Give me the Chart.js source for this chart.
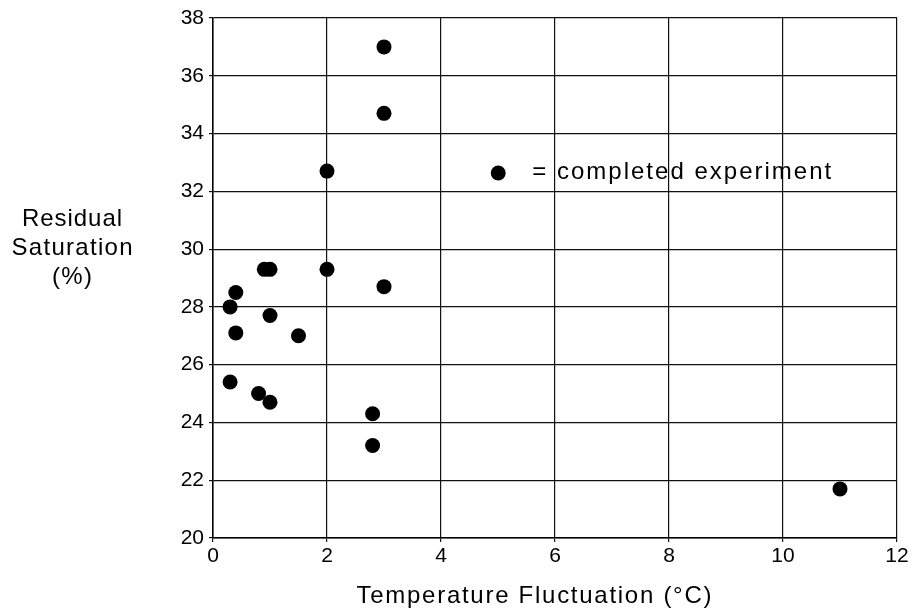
<!DOCTYPE html>
<html>
<head>
<meta charset="utf-8">
<script src="https://cdn.jsdelivr.net/npm/chart.js@4.4.1/dist/chart.umd.min.js"></script>
<style>
  html, body { margin: 0; padding: 0; background: #fff; }
  canvas { display: block; }
</style>
</head>
<body>
<canvas id="satChart" width="912" height="613"></canvas>
<script>
// temperature fluctuation (deg C) vs residual saturation (%)
const tempFluct = [3, 3, 2, 0.9, 1.0, 2, 3, 0.4, 0.3, 1.0, 0.4, 1.5, 0.3, 0.8, 1.0, 2.8, 2.8, 11];
const residSat  = [37.0, 34.7, 32.7, 29.3, 29.3, 29.3, 28.7, 28.5, 28.0, 27.7, 27.1, 27.0, 25.4, 25.0, 24.7, 24.3, 23.2, 21.7];

const xTicks = [0, 2, 4, 6, 8, 10, 12];
const yTicks = [20, 22, 24, 26, 28, 30, 32, 34, 36, 38];

const FONT = '"Liberation Sans", Arial, sans-serif';

// draw text stretched out to a given width (the old typeset look)
function spacedText(ctx, str, x, y, width, align) {
  ctx.letterSpacing = '0px';
  const w = ctx.measureText(str).width;
  const sp = Math.max(0, (width - w) / (str.length - 1));
  ctx.letterSpacing = sp + 'px';
  const total = w + sp * (str.length - 1);
  let left = x;
  if (align === 'center') left = x - total / 2;
  ctx.textAlign = 'left';
  ctx.fillText(str, left, y);
  ctx.letterSpacing = '0px';
}

const labelsPlugin = {
  id: 'labels',
  afterDraw(chart) {
    const ctx = chart.ctx;
    const a = chart.chartArea;
    ctx.save();
    ctx.fillStyle = '#000';
    ctx.textBaseline = 'alphabetic';

    // y title, three centred lines
    ctx.font = '24px ' + FONT;
    spacedText(ctx, 'Residual', 72, 226, 100, 'center');
    spacedText(ctx, 'Saturation', 72, 255, 121, 'center');
    spacedText(ctx, '(%)', 72, 284, 40, 'center');

    // x title
    ctx.font = '24px ' + FONT;
    spacedText(ctx, 'Temperature Fluctuation (°C)', 534, 603, 355, 'center');

    // legend inside the plot
    const lx = a.left + (a.right - a.left) * 0.417;
    const ly = a.top + (a.bottom - a.top) * 0.298;
    ctx.beginPath();
    ctx.arc(lx, ly, 7.5, 0, Math.PI * 2);
    ctx.fill();
    ctx.font = '24px ' + FONT;
    ctx.textBaseline = 'middle';
    spacedText(ctx, '= completed experiment', lx + 34, ly - 1, 299, 'left');
    ctx.restore();
  }
};

new Chart(document.getElementById('satChart'), {
  type: 'scatter',
  data: {
    datasets: [{
      label: 'completed experiment',
      data: tempFluct.map((t, i) => ({ x: t, y: residSat[i] })),
      backgroundColor: '#000',
      borderWidth: 0,
      pointRadius: 7.5,
      pointHoverRadius: 7.5
    }]
  },
  options: {
    responsive: false,
    animation: false,
    layout: { padding: { left: 0, top: 18, right: 15, bottom: 0 } },
    plugins: { legend: { display: false }, tooltip: { enabled: false } },
    scales: {
      x: {
        type: 'linear',
        min: 0, max: 12,
        afterBuildTicks: s => { s.ticks = xTicks.map(v => ({ value: v })); },
        afterFit: s => { s.height = 75; },
        grid: { color: '#111', lineWidth: 1.2, tickLength: 4 },
        border: { color: '#000', width: 1.5 },
        ticks: { color: '#000', font: { family: FONT, size: 21 }, padding: 2, maxRotation: 0 }
      },
      y: {
        type: 'linear',
        min: 20, max: 38,
        afterBuildTicks: s => { s.ticks = yTicks.map(v => ({ value: v })); },
        afterFit: s => { s.width = 213; },
        grid: { color: '#111', lineWidth: 1.2, tickLength: 4 },
        border: { color: '#000', width: 1.5 },
        ticks: { color: '#000', font: { family: FONT, size: 21 }, padding: 5 }
      }
    }
  },
  plugins: [labelsPlugin]
});
</script>
</body>
</html>
